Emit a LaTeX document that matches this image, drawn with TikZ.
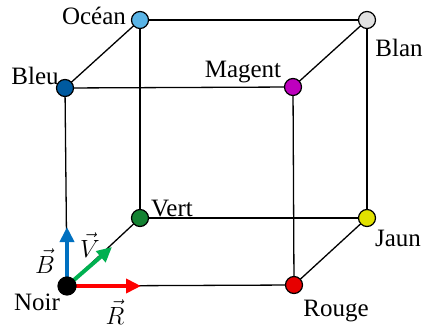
\documentclass[tikz,border=0pt]{standalone}
\usepackage{fontspec}
\setmainfont{Liberation Serif}
\usetikzlibrary{arrows.meta}
\definecolor{cNoir}{RGB}{0,0,0}
\definecolor{cRouge}{RGB}{230,0,0}
\definecolor{cVert}{RGB}{20,130,50}
\definecolor{cJaun}{RGB}{225,225,0}
\definecolor{cBleu}{RGB}{0,90,160}
\definecolor{cMagent}{RGB}{190,0,190}
\definecolor{cOcean}{RGB}{90,180,230}
\definecolor{cBlan}{RGB}{225,225,225}
\definecolor{aBlue}{RGB}{0,112,192}
\definecolor{aGreen}{RGB}{0,176,80}
\definecolor{aRed}{RGB}{255,0,0}
\begin{document}
\begin{tikzpicture}[x=1pt,y=-1pt,
  vtx/.style={circle,draw=black,line width=1.2pt,minimum size=17pt,inner sep=0pt},
  edge/.style={line width=1.3pt},
  lbl/.style={font=\fontsize{25}{28}\selectfont,inner sep=0pt},
  vlbl/.style={font=\fontsize{28}{30}\selectfont,inner sep=0pt},
  vecarrow/.style={line width=4pt,-{Triangle[length=15pt,width=14pt]}}]
\useasboundingbox (0,0) rectangle (425,331);
\coordinate (noir) at (67,286);
\coordinate (rouge) at (294,285);
\coordinate (vert) at (140,218);
\coordinate (jaun) at (367,218);
\coordinate (bleu) at (65,88);
\coordinate (magent) at (293,87);
\coordinate (ocean) at (140,20);
\coordinate (blan) at (367,20);
% edges
\draw[edge] (noir) -- (rouge);
\draw[edge] (noir) -- (bleu);
\draw[edge] (noir) -- (vert);
\draw[edge] (vert) -- (jaun);
\draw[edge] (vert) -- (ocean);
\draw[edge] (rouge) -- (jaun);
\draw[edge] (rouge) -- (magent);
\draw[edge] (jaun) -- (blan);
\draw[edge] (bleu) -- (magent);
\draw[edge] (bleu) -- (ocean);
\draw[edge] (ocean) -- (blan);
\draw[edge] (magent) -- (blan);
% vertices
\node[vtx,fill=cRouge] (nrouge) at (rouge) {};
\node[vtx,fill=cVert] (nvert) at (vert) {};
\node[vtx,fill=cJaun] (njaun) at (jaun) {};
\node[vtx,fill=cBleu] (nbleu) at (bleu) {};
\node[vtx,fill=cMagent] (nmagent) at (magent) {};
\node[vtx,fill=cOcean] (nocean) at (ocean) {};
\node[vtx,fill=cBlan] (nblan) at (blan) {};
% vectors
\coordinate (btip) at (67,227);
\coordinate (vtip) at (112,247);
\coordinate (rtip) at (141,286);
\draw[vecarrow,aBlue] (noir) -- (btip);
\draw[vecarrow,aGreen] (noir) -- (vtip);
\draw[vecarrow,aRed] (noir) -- (rtip);
\node[vtx,fill=cNoir,minimum size=18pt] (nnoir) at (noir) {};
% labels
\node[lbl] (lnoir) at (37,302) {Noir};
\node[lbl] (lrouge) at (336,311) {Rouge};
\node[lbl] (lvert) at (172,209) {Vert};
\node[lbl] (ljaun) at (398,238) {Jaun};
\node[lbl] (lbleu) at (35,76) {Bleu};
\node[lbl] (lmagent) at (243,72) {Magent};
\node[lbl] (locean) at (94,16) {Océan};
\node[lbl] (lblan) at (399,48) {Blan};
\node[vlbl] (lB) at (45,261) {$\vec{B}$};
\node[vlbl] (lV) at (90,245) {$\vec{V}$};
\node[vlbl] (lR) at (115,312) {$\vec{R}$};
\end{tikzpicture}
\end{document}
